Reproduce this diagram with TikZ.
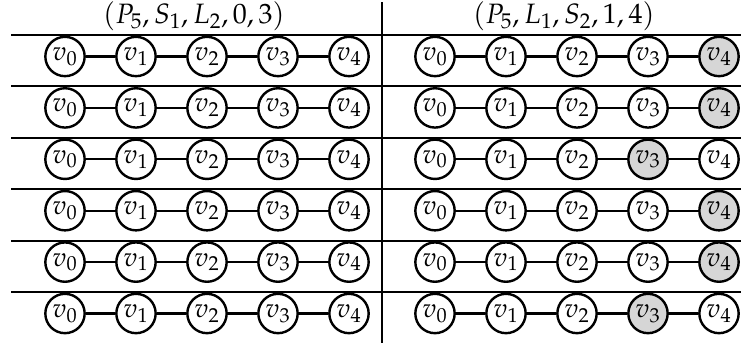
\documentclass[tikz,border=0pt]{standalone}
\usepackage{mathpazo}
\begin{document}
\begin{tikzpicture}[x=0.75pt,y=-0.75pt,
  vtx/.style={circle,draw,line width=1.8pt,minimum size=29.5pt,inner sep=0pt,font=\fontsize{20}{22}\selectfont},
  shade if/.code 2 args={\ifnum#1=#2\relax\pgfkeysalso{fill=black!16}\fi},
  link/.style={line width=1.6pt},
  hrule/.style={line width=1.5pt},
  vrule/.style={line width=1.2pt},
  head/.style={font=\fontsize{21}{23}\selectfont,inner sep=0pt}]
\useasboundingbox (0,0) rectangle (741,343);
\node[head] (hl) at (194,16) {$(P_5, S_1, L_2, 0, 3)$};
\node[head] (hr) at (564,16) {$(P_5, L_1, S_2, 1, 4)$};
\coordinate (vt) at (382,2);
\coordinate (vb) at (382,343);
\draw[vrule] (vt) -- (vb);
\foreach \r/\s in {1/4,2/4,3/3,4/4,5/4,6/3}{
  \pgfmathsetmacro{\yl}{35+(\r-1)*51.4}
  \pgfmathsetmacro{\yc}{56.5+(\r-1)*51.4}
  \coordinate (ra-\r) at (11,\yl);
  \coordinate (rb-\r) at (741,\yl);
  \draw[hrule] (ra-\r) -- (rb-\r);
  \foreach \i in {0,...,4}{
    \node[vtx] (L-\r-\i) at (65+\i*71,\yc) {$v_{\i}$};
    \node[vtx,shade if={\i}{\s}] (R-\r-\i) at (435+\i*71,\yc) {$v_{\i}$};
  }
  \foreach \i [evaluate=\i as \j using int(\i+1)] in {0,...,3}{
    \draw[link] (L-\r-\i) -- (L-\r-\j);
    \draw[link] (R-\r-\i) -- (R-\r-\j);
  }
}
\end{tikzpicture}
\end{document}
